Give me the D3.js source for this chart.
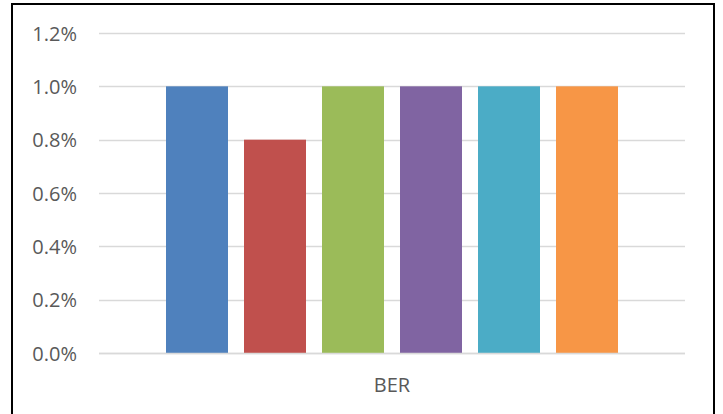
<!DOCTYPE html>
<html>
<head>
<meta charset="utf-8">
<script src="https://cdn.jsdelivr.net/npm/d3@7"></script>
<style>
  html, body { margin: 0; padding: 0; background: #fff; }
  svg { display: block; }
  text { font-family: "Open Sans", "Liberation Sans", sans-serif; fill: #595959; }
</style>
</head>
<body>
<svg id="chart" width="723" height="414"></svg>
<script>
// Bit error rate per configuration, in percent
const categories = ["BER"];
const seriesNames = ["S1", "S2", "S3", "S4", "S5", "S6"];
const seriesValues = [1.0, 0.8, 1.0, 1.0, 1.0, 1.0];
const seriesColors = ["#4f81bd", "#c0504d", "#9bbb59", "#8064a2", "#4bacc6", "#f79646"];
const yTicks = [0, 0.2, 0.4, 0.6, 0.8, 1.0, 1.2];

const svg = d3.select("#chart");

// Outer chart frame
svg.append("rect")
  .attr("x", 12).attr("y", 4)
  .attr("width", 702).attr("height", 420)
  .attr("fill", "none")
  .attr("stroke", "#000")
  .attr("stroke-width", 2);

const plot = { left: 99, right: 685, top: 33, bottom: 353 };

const y = d3.scaleLinear()
  .domain([0, 1.2])
  .range([plot.bottom, plot.top]);

const x0 = d3.scaleBand()
  .domain(categories)
  .range([plot.left, plot.right])
  .paddingInner(0)
  .paddingOuter((586 / 468 - 1) / 2);

const gap = 16 / 78;
const x1 = d3.scaleBand()
  .domain(seriesNames)
  .range([0, x0.bandwidth()])
  .paddingInner(gap)
  .paddingOuter(gap / 2);

// Horizontal gridlines
svg.append("g")
  .selectAll("line")
  .data(yTicks)
  .join("line")
  .attr("x1", plot.left).attr("x2", plot.right)
  .attr("y1", d => Math.round(y(d)) + 0.5)
  .attr("y2", d => Math.round(y(d)) + 0.5)
  .attr("stroke", "#d9d9d9")
  .attr("stroke-width", 1.3);

// Bars
const groups = svg.append("g")
  .selectAll("g")
  .data(categories)
  .join("g")
  .attr("transform", d => `translate(${x0(d)},0)`);

groups.selectAll("rect")
  .data(() => seriesNames.map((s, i) => ({ s, v: seriesValues[i], c: seriesColors[i] })))
  .join("rect")
  .attr("x", d => x1(d.s))
  .attr("width", x1.bandwidth())
  .attr("y", d => y(d.v))
  .attr("height", d => y(0) - y(d.v))
  .attr("fill", d => d.c);

// Category axis baseline
svg.append("line")
  .attr("x1", plot.left).attr("x2", plot.right)
  .attr("y1", plot.bottom + 0.5).attr("y2", plot.bottom + 0.5)
  .attr("stroke", "#d9d9d9")
  .attr("stroke-width", 1.5);

// Y axis labels
const yAxis = d3.axisLeft(y)
  .tickValues(yTicks)
  .tickFormat(d => d.toFixed(1) + "%")
  .tickSize(0)
  .tickPadding(0);

const yg = svg.append("g")
  .attr("transform", "translate(77,0)")
  .call(yAxis);
yg.select(".domain").remove();
yg.selectAll("text")
  .attr("font-size", 20)
  .attr("font-family", null)
  .attr("fill", null)
  .attr("dy", "0.36em");

// X axis label
const xAxis = d3.axisBottom(x0).tickSize(0).tickPadding(0);
const xg = svg.append("g")
  .attr("transform", `translate(0,${plot.bottom})`)
  .call(xAxis);
xg.select(".domain").remove();
xg.selectAll("text")
  .attr("font-size", 20)
  .attr("font-family", null)
  .attr("fill", null)
  .attr("y", 38.5)
  .attr("dy", 0);
</script>
</body>
</html>
